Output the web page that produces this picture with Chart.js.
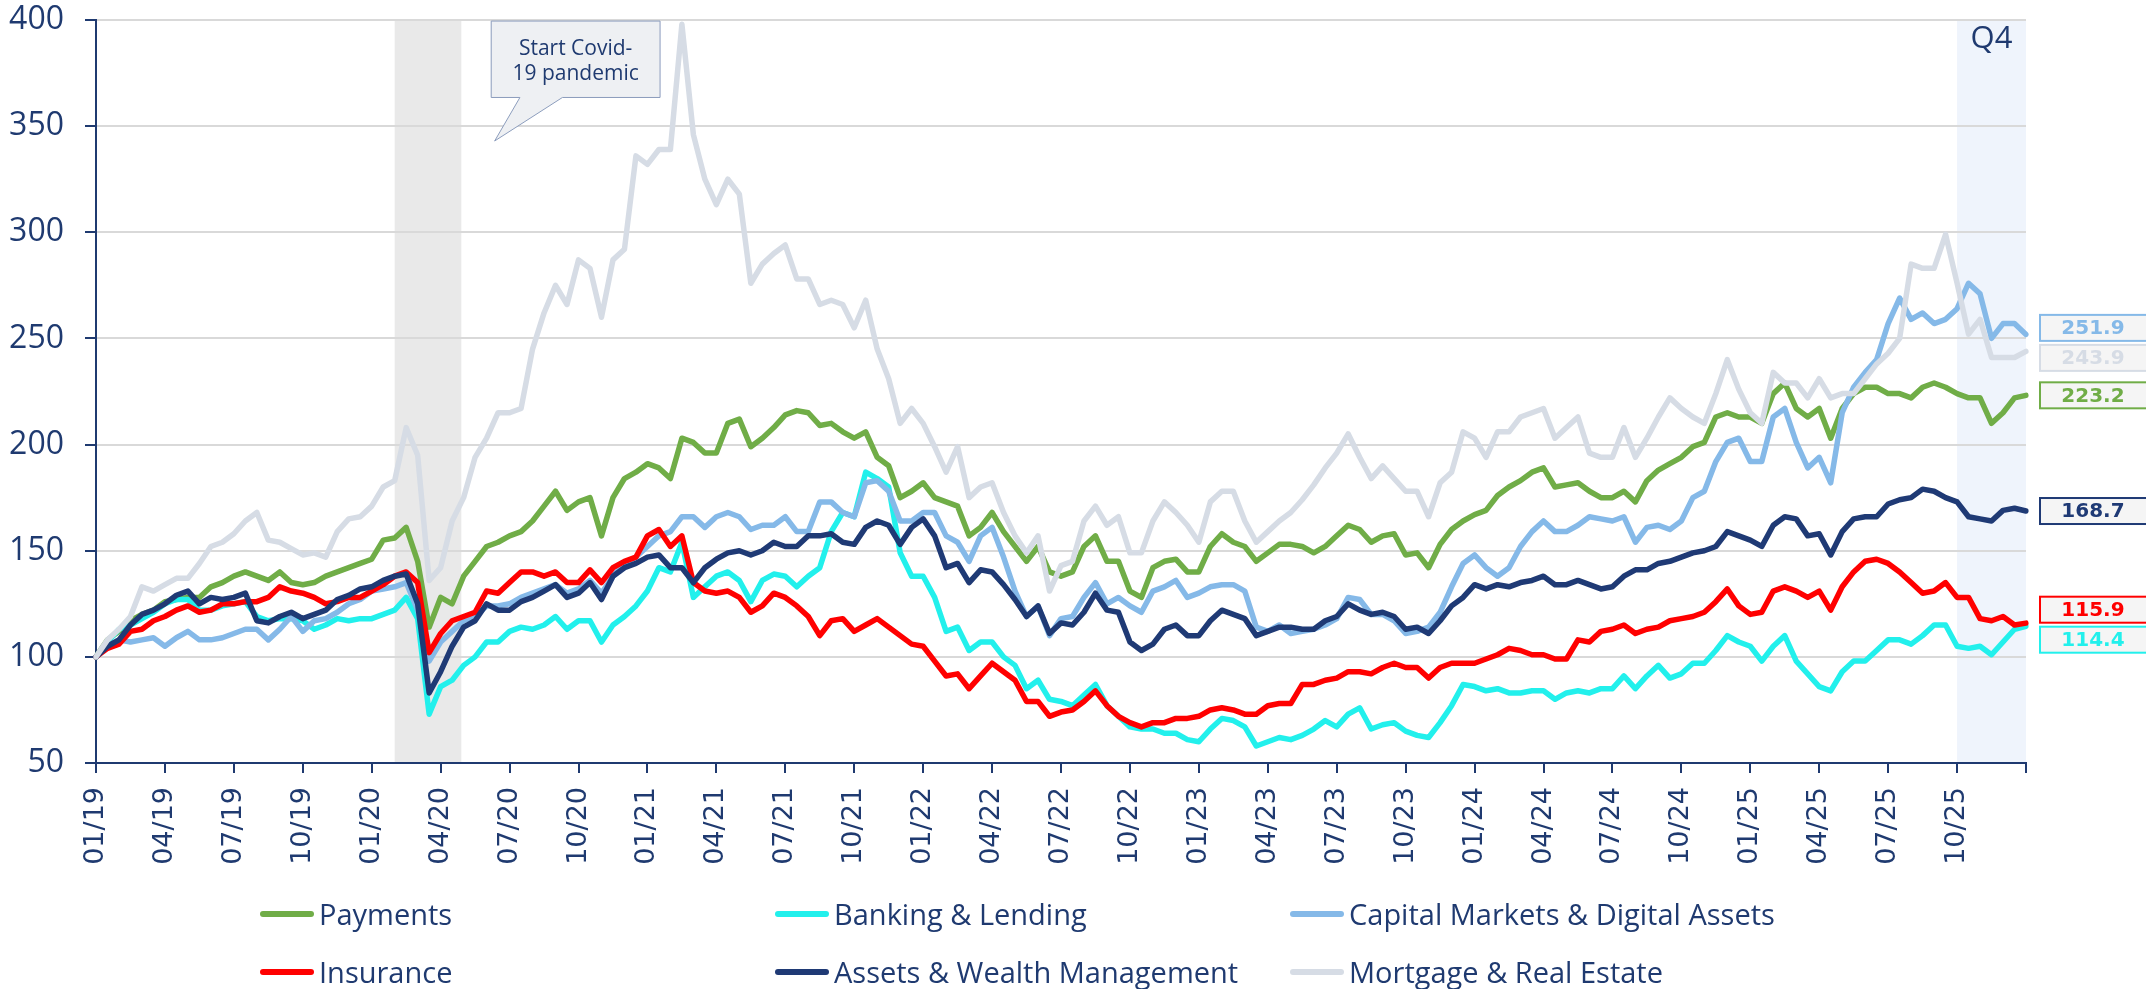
<!DOCTYPE html>
<html>
<head>
<meta charset="utf-8">
<script src="https://cdn.jsdelivr.net/npm/chart.js@4"></script>
<style>
  html, body { margin: 0; padding: 0; background: #fff; }
  #wrap { position: relative; width: 2146px; height: 989px; overflow: hidden; }
  #chart { position: absolute; left: 0; top: 0; }
  .legend-item {
    position: absolute; display: flex; align-items: center;
    font-family: "Open Sans", sans-serif; font-size: 29px; line-height: 36px;
    color: #1f3a70; white-space: nowrap;
  }
  .legend-item .swatch { display: inline-block; width: 54px; height: 6px; border-radius: 3px; margin-right: 5px; }
</style>
</head>
<body>
<div id="wrap">
  <canvas id="chart" width="2146" height="989"></canvas>
</div>
<script>
// half-month steps from 01/2019 to the end of 12/2025 (169 points)
const quarterLabels = ["01/19","04/19","07/19","10/19","01/20","04/20","07/20","10/20",
  "01/21","04/21","07/21","10/21","01/22","04/22","07/22","10/22",
  "01/23","04/23","07/23","10/23","01/24","04/24","07/24","10/24",
  "01/25","04/25","07/25","10/25"];

const seriesNames = ["Payments", "Banking & Lending", "Capital Markets & Digital Assets",
  "Insurance", "Assets & Wealth Management", "Mortgage & Real Estate"];
const seriesColors = ["#70ad47", "#22f0ec", "#85b9e8", "#ff0000", "#1f3a75", "#d6dce5"];

const payments = [100,108,112,117,120,122,126,127,128,128,133,135,138,140,138,136,140,135,134,135,138,140,142,144,146,155,156,161,145,
  114,128,125,138,145,152,154,157,159,164,171,178,169,173,175,157,175,184,187,191,189,184,203,201,196,196,210,212,
  199,203,208,214,216,215,209,210,206,203,206,194,190,175,178,182,175,173,171,157,161,168,159,152,145,152,140,138,
  140,152,157,145,145,131,128,142,145,146,140,140,152,158,154,152,145,149,153,153,152,149,152,157,162,160,154,157,
  158,148,149,142,153,160,164,167,169,176,180,183,187,189,180,181,182,178,175,175,178,173,183,188,191,194,199,201,
  213,215,213,213,210,224,229,217,213,217,203,217,224,227,227,224,224,222,227,229,227,224,222,222,210,215,222,223.2];

const banking = [100,107,113,115,118,121,125,127,127,122,122,124,125,126,119,117,118,118,117,113,115,118,117,118,118,120,122,128,118,
  73,86,89,96,100,107,107,112,114,113,115,119,113,117,117,107,115,119,124,131,142,140,154,128,133,138,140,136,
  126,136,139,138,133,138,142,159,168,166,187,184,180,149,138,138,128,112,114,103,107,107,100,96,85,89,80,79,
  77,82,87,77,72,67,66,66,64,64,61,60,66,71,70,67,58,60,62,61,63,66,70,67,73,76,66,68,
  69,65,63,62,69,77,87,86,84,85,83,83,84,84,80,83,84,83,85,85,91,85,91,96,90,92,97,97,
  103,110,107,105,98,105,110,98,92,86,84,93,98,98,103,108,108,106,110,115,115,105,104,105,101,107,113,114.4];

const capitalMarkets = [100,105,108,107,108,109,105,109,112,108,108,109,111,113,113,108,113,119,112,117,118,121,125,127,131,132,133,135,122,
  98,107,112,117,119,124,124,125,128,130,132,134,130,132,136,130,138,144,147,152,157,159,166,166,161,166,168,166,
  160,162,162,166,159,159,173,173,168,166,182,183,178,164,164,168,168,157,154,145,157,161,147,131,119,124,110,118,
  119,128,135,125,128,124,121,131,133,136,128,130,133,134,134,131,114,112,115,111,112,113,115,118,128,127,120,120,
  117,111,112,114,121,133,144,148,142,138,142,152,159,164,159,159,162,166,165,164,166,154,161,162,160,164,175,178,
  192,201,203,192,192,213,217,201,189,194,182,215,227,234,240,257,269,259,262,257,259,264,276,271,250,257,257,251.9];

const insurance = [100,104,106,112,113,117,119,122,124,121,122,125,125,126,126,128,133,131,130,128,125,126,128,128,131,134,138,140,135,
  102,111,117,119,121,131,130,135,140,140,138,140,135,135,141,135,142,145,147,157,160,152,157,135,131,130,131,128,
  121,124,130,128,124,119,110,117,118,112,115,118,114,110,106,105,98,91,92,85,91,97,93,89,79,79,72,74,
  75,79,84,77,72,69,67,69,69,71,71,72,75,76,75,73,73,77,78,78,87,87,89,90,93,93,92,95,
  97,95,95,90,95,97,97,97,99,101,104,103,101,101,99,99,108,107,112,113,115,111,113,114,117,118,119,121,
  126,132,124,120,121,131,133,131,128,131,122,133,140,145,146,144,140,135,130,131,135,128,128,118,117,119,115,115.9];

const assetsWealth = [100,105,108,115,120,122,125,129,131,125,128,127,128,130,117,116,119,121,118,120,122,127,129,132,133,136,138,139,125,
  83,93,105,114,117,125,122,122,126,128,131,134,128,130,135,127,138,142,144,147,148,142,142,135,142,146,149,150,
  148,150,154,152,152,157,157,158,154,153,161,164,162,153,161,165,157,142,144,135,141,140,134,127,119,124,111,116,
  115,121,130,122,121,107,103,106,113,115,110,110,117,122,120,118,110,112,114,114,113,113,117,119,125,122,120,121,
  119,113,114,111,117,124,128,134,132,134,133,135,136,138,134,134,136,134,132,133,138,141,141,144,145,147,149,150,
  152,159,157,155,152,162,166,165,157,158,148,159,165,166,166,172,174,175,179,178,175,173,166,165,164,169,170,168.7];

const mortgage = [100,108,113,119,133,131,134,137,137,144,152,154,158,164,168,155,154,151,148,149,147,159,165,166,171,180,183,208,195,
  136,142,164,175,194,203,215,215,217,245,262,275,266,287,283,260,287,292,336,332,339,339,398,346,325,313,325,318,
  276,285,290,294,278,278,266,268,266,255,268,245,231,210,217,210,199,187,199,175,180,182,168,157,149,157,131,143,
  145,164,171,162,166,149,149,164,173,168,162,154,173,178,178,164,154,159,164,168,174,181,189,196,205,194,184,190,
  184,178,178,166,182,187,206,203,194,206,206,213,215,217,203,208,213,196,194,194,208,194,203,213,222,217,213,210,
  224,240,226,215,210,234,229,229,222,231,222,224,224,231,238,243,250,285,283,283,299,276,252,259,241,241,241,243.9];

const seriesData = [payments, banking, capitalMarkets, insurance, assetsWealth, mortgage];

// shaded periods, in half-month index units
const covidBand = [26, 31.8];
const q4Band = [162, 168];

const navy = "#1f3a70";

const dates = [];
for (let i = 0; i <= 168; i++) {
    const m = Math.floor(i / 2) % 12 + 1;
    const yr = 19 + Math.floor(i / 24);
    dates.push(String(m).padStart(2, "0") + "/" + yr + (i % 2 ? "b" : ""));
}

const datasets = seriesNames.map((name, k) => ({
    label: name,
    data: seriesData[k],
    borderColor: seriesColors[k],
    backgroundColor: seriesColors[k],
    order: seriesNames.length - k   // later series drawn on top
}));

// shaded periods + Q4 label, drawn under the grid
const bandsPlugin = {
    id: "bands",
    beforeDraw(chart) {
        const { ctx, chartArea: a, scales: { x } } = chart;
        ctx.save();
        ctx.fillStyle = "#e9e9e9";
        let x0 = x.getPixelForValue(covidBand[0]), x1 = x.getPixelForValue(covidBand[1]);
        ctx.fillRect(x0, a.top, x1 - x0, a.bottom - a.top);
        ctx.fillStyle = "#eff4fc";
        x0 = x.getPixelForValue(q4Band[0]); x1 = x.getPixelForValue(q4Band[1]);
        ctx.fillRect(x0, a.top, x1 - x0, a.bottom - a.top);
        ctx.fillStyle = navy;
        ctx.font = '31px "Open Sans"';
        ctx.textAlign = "center";
        ctx.textBaseline = "alphabetic";
        ctx.fillText("Q4", (x0 + x1) / 2, a.top + 28);
        ctx.restore();
    }
};

// covid callout and end-value boxes
const overlayPlugin = {
    id: "overlay",
    afterDraw(chart) {
        const { ctx, chartArea: a, scales: { x, y } } = chart;
        ctx.save();

        // callout box pointing at the covid period
        const bl = x.getPixelForValue(34.4), br = x.getPixelForValue(49.1);
        const bt = y.getPixelForValue(399.5), bb = y.getPixelForValue(363.5);
        const p0 = x.getPixelForValue(36.9), p1 = x.getPixelForValue(40.6);
        const tx = x.getPixelForValue(34.7), ty = y.getPixelForValue(343);
        ctx.beginPath();
        ctx.moveTo(bl, bt); ctx.lineTo(br, bt); ctx.lineTo(br, bb);
        ctx.lineTo(p1, bb); ctx.lineTo(tx, ty); ctx.lineTo(p0, bb);
        ctx.lineTo(bl, bb); ctx.closePath();
        ctx.fillStyle = "#eef0f3";
        ctx.fill();
        ctx.strokeStyle = "#8c9dbd";
        ctx.lineWidth = 1;
        ctx.stroke();
        ctx.fillStyle = navy;
        ctx.font = '21px "Open Sans"';
        ctx.textAlign = "center";
        ctx.textBaseline = "middle";
        ctx.fillText("Start Covid-", (bl + br) / 2, bt + 28);
        ctx.fillText("19 pandemic", (bl + br) / 2, bt + 53);

        // last value boxes on the right
        const items = chart.data.datasets.map(ds => {
            const v = ds.data[ds.data.length - 1];
            return { v: v, c: ds.borderColor, y: y.getPixelForValue(v) };
        });
        items.sort((p, q) => p.y - q.y);
        for (let pass = 0; pass < 20; pass++) {
            for (let j = 1; j < items.length; j++) {
                const gap = items[j].y - items[j - 1].y;
                if (gap < 30) {
                    const d = (30 - gap) / 2;
                    items[j].y += d;
                    items[j - 1].y -= d;
                }
            }
        }
        const left = a.right + 14;
        items.forEach(it => {
            ctx.fillStyle = "#f5f5f5";
            ctx.fillRect(left, it.y - 13, 112, 26);
            ctx.strokeStyle = it.c;
            ctx.lineWidth = 2;
            ctx.strokeRect(left, it.y - 13, 112, 26);
            ctx.fillStyle = it.c;
            ctx.font = 'bold 20px "DejaVu Sans"';
            ctx.textAlign = "center";
            ctx.textBaseline = "middle";
            ctx.fillText(it.v.toFixed(1), left + 53, it.y + 1);
        });
        ctx.restore();
    }
};

new Chart(document.getElementById("chart"), {
    type: "line",
    data: { labels: dates, datasets: datasets },
    options: {
        responsive: false,
        animation: false,
        layout: { padding: { top: 20, right: 120, bottom: 116, left: 0 } },
        plugins: { legend: { display: false }, tooltip: { enabled: false } },
        elements: {
            point: { radius: 0 },
            line: { borderWidth: 5.5, tension: 0, borderJoinStyle: "round", borderCapStyle: "round" }
        },
        scales: {
            x: {
                type: "category",
                offset: false,
                grid: {
                    drawOnChartArea: false,
                    tickLength: 10,
                    lineWidth: 2,
                    tickColor: c => (c.index % 6 === 0 ? navy : "rgba(0,0,0,0)")
                },
                border: { color: navy, width: 2 },
                ticks: {
                    autoSkip: false,
                    maxRotation: 90,
                    minRotation: 90,
                    padding: 14,
                    color: navy,
                    font: { family: "DejaVu Sans", size: 27 },
                    callback: (v, i) => (i % 6 === 0 && i < 168 ? quarterLabels[i / 6] : "")
                },
                afterFit: s => { s.height = 110; }
            },
            y: {
                min: 50,
                max: 400,
                ticks: { stepSize: 50, padding: 21, color: navy, font: { family: "Open Sans", size: 32 } },
                grid: { color: "#d9d9d9", lineWidth: 2, tickLength: 11, tickColor: navy },
                border: { color: navy, width: 2 },
                afterFit: s => { s.width = 96; s.paddingTop = 0; }
            }
        }
    },
    plugins: [bandsPlugin, overlayPlugin]
});

// legend in three columns, two rows
const wrap = document.getElementById("wrap");
const legendCols = [260, 775, 1290];
const legendRows = [914, 972];
seriesNames.forEach((name, k) => {
    const item = document.createElement("div");
    item.className = "legend-item";
    item.style.left = legendCols[k % 3] + "px";
    item.style.top = (legendRows[Math.floor(k / 3)] - 18) + "px";
    item.innerHTML = '<span class="swatch" style="background:' + seriesColors[k] + '"></span>';
    item.appendChild(document.createTextNode(name));
    wrap.appendChild(item);
});
</script>
</body>
</html>
